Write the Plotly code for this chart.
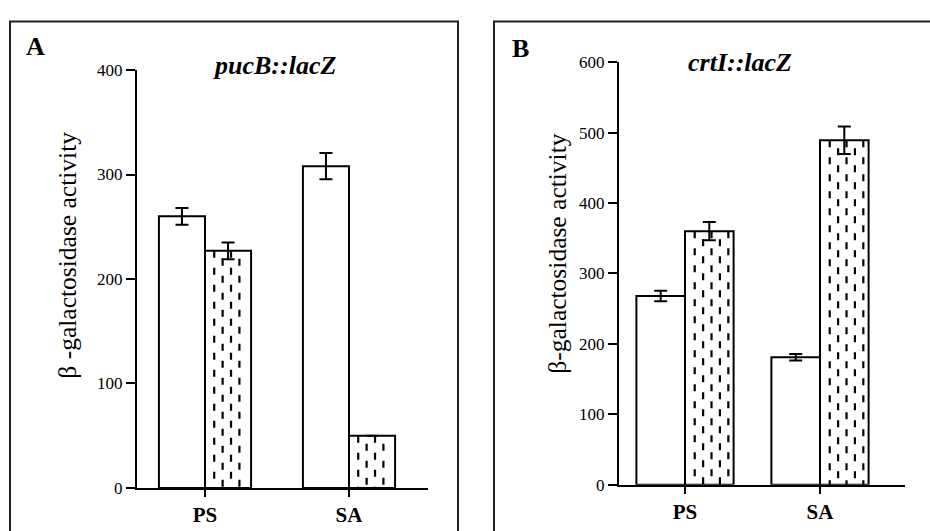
import plotly.graph_objects as go

# ---------------- data ----------------
categories = ["PS", "SA"]
cat_pos = [0, 1]

a_white = [260, 308]
a_white_err = [8, 12.5]
a_hatched = [227, 50]
a_hatched_err = [8, 0]

b_white = [268, 181]
b_white_err = [7.5, 4.5]
b_hatched = [360, 489]
b_hatched_err = [13, 19.5]

a_yticks = [0, 100, 200, 300, 400]
b_yticks = [0, 100, 200, 300, 400, 500, 600]

a_title = "pucB::lacZ"
b_title = "crtI::lacZ"
a_ytitle = "β -galactosidase activity"
b_ytitle = "β-galactosidase activity"

# ---------------- geometry (px) ----------------
W, H = 930, 531
SERIF = "Liberation Serif, Times New Roman, serif"

panels = {
    "A": dict(x0=137, x1=428, y0=496.7, y1=63.3, cat0=205, step=144, ymax=400, bw=0.32, ncols=4),
    "B": dict(x0=619, x1=905, y0=493.4, y1=55.1, cat0=685, step=135, ymax=600, bw=0.36, ncols=5),
}

fig = go.Figure()


def add_panel(key, white, white_err, hatched, hatched_err, xa, ya):
    p = panels[key]
    bw = p["bw"]
    fig.add_trace(go.Bar(
        x=cat_pos, y=white, width=bw, offset=-bw,
        marker=dict(color="white", line=dict(color="black", width=2)),
        error_y=dict(type="data", array=white_err, color="black", thickness=2, width=6.5),
        xaxis=xa, yaxis=ya, showlegend=False,
    ))
    fig.add_trace(go.Bar(
        x=cat_pos, y=hatched, width=bw, offset=0,
        marker=dict(color="white", line=dict(color="black", width=2)),
        error_y=dict(type="data", array=hatched_err, color="black", thickness=2, width=6.5),
        xaxis=xa, yaxis=ya, showlegend=False,
    ))
    # dashed hatch columns inside the hatched bars
    step_units = 8.4 / p["step"]
    first_units = 0.2 * bw
    for xi, v in zip(cat_pos, hatched):
        for k in range(p["ncols"]):
            xc = xi + first_units + k * step_units
            fig.add_trace(go.Scatter(
                x=[xc, xc], y=[v, 0], mode="lines",
                line=dict(color="black", width=2.2,
                          dash="7px,10px" if k % 2 == 0 else "0px,8px,7px,2px"),
                xaxis=xa, yaxis=ya, showlegend=False, hoverinfo="skip",
            ))


add_panel("A", a_white, a_white_err, a_hatched, a_hatched_err, "x", "y")
add_panel("B", b_white, b_white_err, b_hatched, b_hatched_err, "x2", "y2")


def axes(key, yticks):
    p = panels[key]
    xdom = [p["x0"] / W, p["x1"] / W]
    ydom = [1 - p["y0"] / H, 1 - p["y1"] / H]
    xr = [-(p["cat0"] - p["x0"]) / p["step"], (p["x1"] - p["cat0"]) / p["step"]]
    xaxis = dict(domain=xdom, range=xr, tickvals=cat_pos, ticktext=categories,
                 showline=True, linecolor="black", linewidth=2, ticks="outside",
                 ticklen=7, tickwidth=1.5, tickcolor="black", showgrid=False,
                 zeroline=False, fixedrange=True,
                 tickfont=dict(family=SERIF, size=21, color="black", weight="bold"))
    yaxis = dict(domain=ydom, range=[0, p["ymax"]], tickvals=yticks,
                 showline=True, linecolor="black", linewidth=2, ticks="outside",
                 ticklen=9, tickwidth=2, tickcolor="black", showgrid=False,
                 zeroline=False, fixedrange=True,
                 tickfont=dict(family=SERIF, size=17, color="black"))
    return xaxis, yaxis


xa1, ya1 = axes("A", a_yticks)
xa2, ya2 = axes("B", b_yticks)
ya1["anchor"] = "x"
xa1["anchor"] = "y"
ya2["anchor"] = "x2"
xa2["anchor"] = "y2"

annotations = [
    dict(text="<b>A</b>", x=35 / W, y=1 - 39 / H, font=dict(family=SERIF, size=26, color="black")),
    dict(text="<b>B</b>", x=520 / W, y=1 - 40.6 / H, font=dict(family=SERIF, size=26, color="black")),
    dict(text="<b><i>" + a_title + "</i></b>", x=274 / W, y=1 - 58.9 / H,
         font=dict(family=SERIF, size=26, color="black")),
    dict(text="<b><i>" + b_title + "</i></b>", x=740 / W, y=1 - 55.9 / H,
         font=dict(family=SERIF, size=26, color="black")),
    dict(text=a_ytitle, x=67.5 / W, y=1 - 255.3 / H, textangle=-90,
         font=dict(family=SERIF, size=25.5, color="black")),
    dict(text=b_ytitle, x=558 / W, y=1 - 253.8 / H, textangle=-90,
         font=dict(family=SERIF, size=25.5, color="black")),
]
for a in annotations:
    a.update(xref="paper", yref="paper", showarrow=False, xanchor="center", yanchor="middle")

shapes = [
    dict(type="rect", xref="paper", yref="paper", x0=10 / W, x1=458 / W,
         y0=-0.1, y1=1 - 13 / H, line=dict(color="#222", width=2)),
    dict(type="rect", xref="paper", yref="paper", x0=494 / W, x1=1.1,
         y0=-0.1, y1=1 - 13 / H, line=dict(color="#222", width=2)),
]

fig.update_layout(
    width=W, height=H, margin=dict(l=0, r=0, t=0, b=0),
    paper_bgcolor="white", plot_bgcolor="white",
    xaxis=xa1, yaxis=ya1, xaxis2=xa2, yaxis2=ya2,
    annotations=annotations, shapes=shapes, showlegend=False,
    barmode="overlay",
)

fig.write_html("out.html", config={"displayModeBar": False},
               post_script="document.body.style.margin='0';document.body.style.overflow='hidden';")
